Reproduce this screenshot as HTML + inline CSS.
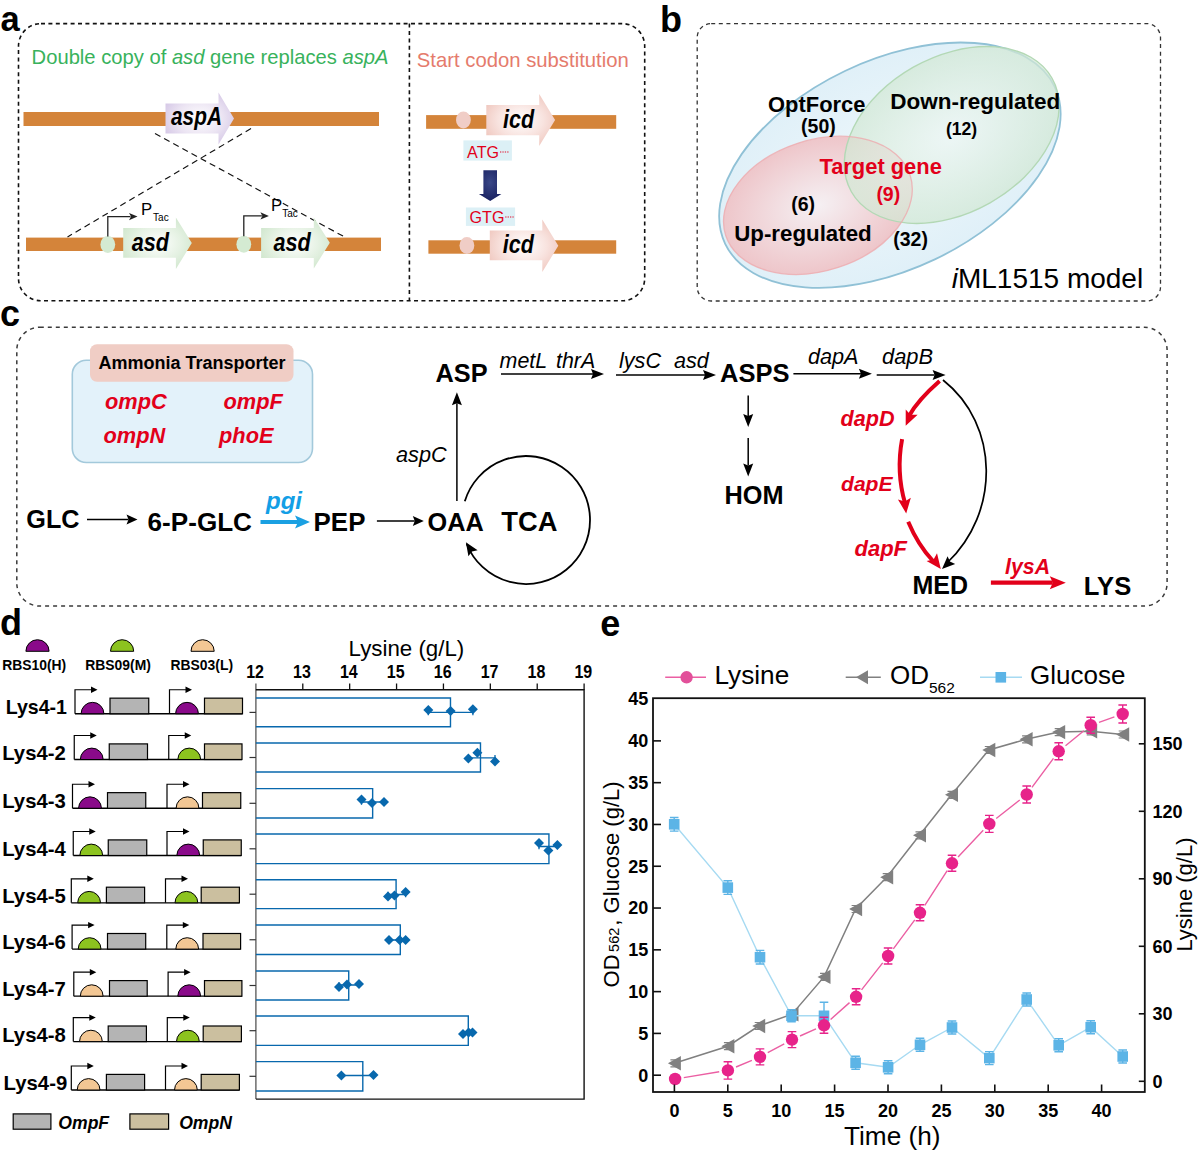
<!DOCTYPE html>
<html><head><meta charset="utf-8"><style>
html,body{margin:0;padding:0;background:#fff;}
svg{display:block;font-family:"Liberation Sans",sans-serif;}
</style></head><body>
<svg width="1200" height="1154" viewBox="0 0 1200 1154">
<rect width="1200" height="1154" fill="#fff"/>
<defs>
<radialGradient id="gPurple" cx="50%" cy="50%" r="60%"><stop offset="0" stop-color="#ffffff"/><stop offset="0.55" stop-color="#ece5f3"/><stop offset="1" stop-color="#d3c5e5"/></radialGradient>
<radialGradient id="gGreen" cx="50%" cy="50%" r="60%"><stop offset="0" stop-color="#ffffff"/><stop offset="0.55" stop-color="#e6f2e4"/><stop offset="1" stop-color="#cfe6cc"/></radialGradient>
<radialGradient id="gPink" cx="50%" cy="50%" r="60%"><stop offset="0" stop-color="#ffffff"/><stop offset="0.55" stop-color="#f8e3df"/><stop offset="1" stop-color="#efc6bd"/></radialGradient>
<radialGradient id="gNavy" cx="50%" cy="40%" r="60%"><stop offset="0" stop-color="#3a4888"/><stop offset="1" stop-color="#1a2262"/></radialGradient>
<radialGradient id="vBlue" cx="50%" cy="50%" r="50%"><stop offset="0" stop-color="#eef7fb"/><stop offset="1" stop-color="#e0f0f8"/></radialGradient>
<radialGradient id="vGreen" cx="50%" cy="50%" r="50%"><stop offset="0" stop-color="#eef7f4"/><stop offset="1" stop-color="#d2e8d4"/></radialGradient>
<radialGradient id="vRed" cx="50%" cy="50%" r="50%"><stop offset="0" stop-color="#f5f0f3"/><stop offset="1" stop-color="#eec6ca"/></radialGradient>
</defs>
<text x="0.5" y="31" font-size="34.5" font-weight="bold" fill="#000">a</text>
<text x="660" y="32" font-size="36" font-weight="bold" fill="#000">b</text>
<text x="0" y="325.5" font-size="36" font-weight="bold" fill="#000">c</text>
<text x="0" y="635.4" font-size="36" font-weight="bold" fill="#000">d</text>
<text x="600.2" y="635.6" font-size="36" font-weight="bold" fill="#000">e</text>
<rect x="18.5" y="23.6" width="626.2" height="277.2" rx="22.5" fill="none" stroke="#111" stroke-width="1.6" stroke-dasharray="4 3.4"/>
<line x1="409.4" y1="23.6" x2="409.4" y2="300.3" stroke="#111" stroke-width="1.6" stroke-dasharray="4 3.4"/>
<text x="31.6" y="63.7" font-size="20.2" fill="#38b25c">Double copy of <tspan font-style="italic">asd</tspan> gene replaces <tspan font-style="italic">aspA</tspan></text>
<rect x="23.5" y="112" width="355.5" height="14" fill="#d4843a"/>
<rect x="26" y="237.6" width="355" height="13.4" fill="#d4843a"/>
<line x1="155" y1="133.5" x2="346.5" y2="238" stroke="#111" stroke-width="1.15" stroke-dasharray="6.2 4.2"/>
<line x1="251" y1="128.5" x2="67.5" y2="237" stroke="#111" stroke-width="1.15" stroke-dasharray="6.2 4.2"/>
<polygon points="165.5,103.5 218.5,103.5 218.5,92.5 234,118.5 218.5,144.5 218.5,133.5 165.5,133.5" fill="url(#gPurple)"/>
<text x="171" y="125" font-size="25.5" font-weight="bold" font-style="italic" textLength="51" lengthAdjust="spacingAndGlyphs">aspA</text>
<ellipse cx="107.8" cy="244.5" rx="7.4" ry="8.5" fill="#d4ead2"/>
<polygon points="123.2,227.9 175.9,227.9 175.9,217.4 191.8,243.1 175.9,269.1 175.9,257.7 123.2,257.7" fill="url(#gGreen)"/>
<text x="131.8" y="250.7" font-size="25" font-weight="bold" font-style="italic" textLength="37.3" lengthAdjust="spacingAndGlyphs">asd</text>
<path d="M107.8,236.5 V216.6 H130.5" fill="none" stroke="#222" stroke-width="1.3"/>
<polygon points="129.0,213.0 137.5,216.6 129.0,220.2 131.0,216.6" fill="#222"/>
<text x="141" y="214.7" font-size="16.8" fill="#000">P</text>
<text x="153.1" y="221.3" font-size="10" fill="#000">Tac</text>
<ellipse cx="243.8" cy="244.3" rx="7.4" ry="8.5" fill="#d4ead2"/>
<polygon points="261.1,228 313.8,228 313.8,217.6 329.8,242.8 313.8,268.6 313.8,258 261.1,258" fill="url(#gGreen)"/>
<text x="273.5" y="250.9" font-size="25" font-weight="bold" font-style="italic" textLength="37.3" lengthAdjust="spacingAndGlyphs">asd</text>
<path d="M243.8,236.3 V215.9 H261.9" fill="none" stroke="#222" stroke-width="1.3"/>
<polygon points="260.4,212.3 268.9,215.9 260.4,219.5 262.4,215.9" fill="#222"/>
<text x="271" y="210.5" font-size="16.8" fill="#000">P</text>
<text x="282.3" y="216.9" font-size="10" fill="#000">Tac</text>
<rect x="426.1" y="115.1" width="190.10000000000002" height="13.700000000000017" fill="#d4843a"/>
<ellipse cx="463.4" cy="120" rx="7.4" ry="8.4" fill="#f0cdc6"/>
<polygon points="486.3,105.1 539.2,105.1 539.2,94.1 555.1,120 539.2,145.9 539.2,135.3 486.3,135.3" fill="url(#gPink)"/>
<text x="503" y="128.2" font-size="25.5" font-weight="bold" font-style="italic" textLength="31.1" lengthAdjust="spacingAndGlyphs">icd</text>
<rect x="428.4" y="240.3" width="187.80000000000007" height="13.399999999999977" fill="#d4843a"/>
<ellipse cx="466.9" cy="245.5" rx="7.4" ry="8.4" fill="#f0cdc6"/>
<polygon points="489.8,230.4 542.3,230.4 542.3,219.5 558.3,245.8 542.3,272 542.3,260.3 489.8,260.3" fill="url(#gPink)"/>
<text x="502.8" y="252.8" font-size="25.5" font-weight="bold" font-style="italic" textLength="31.1" lengthAdjust="spacingAndGlyphs">icd</text>
<text x="416.8" y="66.6" font-size="20.3" fill="#e57b6c">Start codon substitution</text>
<rect x="463.4" y="140.4" width="48.5" height="20.2" fill="#dcf0f6"/>
<text x="467.1" y="157.9" font-size="16.1" fill="#e2001a">ATG</text>
<line x1="500" y1="152" x2="509.5" y2="152" stroke="#e05a70" stroke-width="1.3" stroke-dasharray="1.3 1.1"/>
<rect x="465.9" y="207.5" width="49.2" height="18.4" fill="#dcf0f6"/>
<text x="469.6" y="223" font-size="16.1" fill="#e2001a">GTG</text>
<line x1="505.2" y1="217" x2="514.5" y2="217" stroke="#e05a70" stroke-width="1.3" stroke-dasharray="1.3 1.1"/>
<polygon points="483.4,170.2 497,170.2 497,194.1 501.4,194.1 490.2,201.1 478.9,194.1 483.4,194.1" fill="url(#gNavy)"/>
<rect x="697.2" y="23.6" width="463.3" height="277.4" rx="14" fill="none" stroke="#333" stroke-width="1.3" stroke-dasharray="4 3.6"/>
<ellipse cx="889.9" cy="165.2" rx="182.5" ry="104.4" transform="rotate(-25.5 889.9 165.2)" fill="url(#vBlue)" stroke="#90c1d6" stroke-width="1.8"/>
<ellipse cx="817.9" cy="205.4" rx="97" ry="65.3" transform="rotate(-18.1 817.9 205.4)" fill="url(#vRed)"/>
<ellipse cx="951.7" cy="135" rx="115.3" ry="77.9" transform="rotate(-29.5 951.7 135)" fill="url(#vGreen)" fill-opacity="0.72" stroke="#b3d8b5" stroke-width="1.4"/>
<ellipse cx="817.9" cy="205.4" rx="97" ry="65.3" transform="rotate(-18.1 817.9 205.4)" fill="none" stroke="#eeaaae" stroke-width="1.3" stroke-opacity="0.8"/>
<text x="768.1" y="112.3" font-size="21.9" font-weight="bold" fill="#000">OptForce</text>
<text x="818.4" y="132.9" font-size="19.5" font-weight="bold" fill="#000" text-anchor="middle">(50)</text>
<text x="890.3" y="108.5" font-size="22.5" font-weight="bold" fill="#000">Down-regulated</text>
<text x="961.6" y="135.1" font-size="17.6" font-weight="bold" fill="#000" text-anchor="middle">(12)</text>
<text x="819.4" y="174.1" font-size="21.9" font-weight="bold" fill="#e2001a">Target gene</text>
<text x="888.3" y="201" font-size="19.5" font-weight="bold" fill="#e2001a" text-anchor="middle">(9)</text>
<text x="803.2" y="211.1" font-size="19.5" font-weight="bold" fill="#000" text-anchor="middle">(6)</text>
<text x="734.2" y="240.6" font-size="22.3" font-weight="bold" fill="#000">Up-regulated</text>
<text x="910.6" y="246.3" font-size="19.5" font-weight="bold" fill="#000" text-anchor="middle">(32)</text>
<text x="951.7" y="287.5" font-size="28"><tspan font-style="italic">i</tspan>ML1515 model</text>
<rect x="16.8" y="327.2" width="1150.3" height="278.9" rx="23" fill="none" stroke="#3a3a3a" stroke-width="1.5" stroke-dasharray="4 4"/>
<rect x="72.3" y="360.3" width="240.2" height="102.2" rx="14" fill="#e3f2fa" stroke="#a3c9db" stroke-width="1.6"/>
<rect x="90" y="344.2" width="203.5" height="37.6" rx="7" fill="#f0cdc5"/>
<text x="98.5" y="368.8" font-size="18" font-weight="bold" fill="#000">Ammonia Transporter</text>
<text x="105" y="409" font-size="21.8" font-weight="bold" font-style="italic" fill="#e2001a">ompC</text>
<text x="223.5" y="409" font-size="21.8" font-weight="bold" font-style="italic" fill="#e2001a">ompF</text>
<text x="103.5" y="442.5" font-size="21.8" font-weight="bold" font-style="italic" fill="#e2001a">ompN</text>
<text x="219" y="442.5" font-size="21.8" font-weight="bold" font-style="italic" fill="#e2001a">phoE</text>
<text x="26.3" y="527.8" font-size="25.2" font-weight="bold" fill="#000">GLC</text>
<line x1="87" y1="519.5" x2="128.50" y2="519.50" stroke="#000" stroke-width="1.5"/><polygon points="137.5,519.5 126.50,524.50 128.50,519.50 126.50,514.50" fill="#000"/>
<text x="147.6" y="530.5" font-size="26.1" font-weight="bold" fill="#000">6-P-GLC</text>
<line x1="260.5" y1="522" x2="298.00" y2="522.00" stroke="#1aa0e2" stroke-width="4"/><polygon points="310,522 295.00,528.50 298.00,522.00 295.00,515.50" fill="#1aa0e2"/>
<text x="266" y="509.2" font-size="24" font-weight="bold" font-style="italic" fill="#139fe6">pgi</text>
<text x="313.6" y="530.5" font-size="25.9" font-weight="bold" fill="#000">PEP</text>
<line x1="376.9" y1="520.9" x2="414.80" y2="520.90" stroke="#000" stroke-width="1.5"/><polygon points="423.8,520.9 412.80,525.90 414.80,520.90 412.80,515.90" fill="#000"/>
<text x="427.6" y="531.1" font-size="25.3" font-weight="bold" fill="#000">OAA</text>
<text x="501.3" y="531.1" font-size="27.3" font-weight="bold" fill="#000">TCA</text>
<line x1="456.9" y1="501.1" x2="456.90" y2="403.30" stroke="#000" stroke-width="1.5"/><polygon points="456.9,392.3 461.90,405.30 456.90,403.30 451.90,405.30" fill="#000"/>
<text x="396" y="461.7" font-size="21.7" font-style="italic" fill="#000">aspC</text>
<path d="M464.80,501.29 A64,64 0 1 1 466.66,543.97" fill="none" stroke="#000" stroke-width="1.8"/>
<polygon points="465.9,542.3 477.62,550.16 471.93,551.50 468.42,556.19" fill="#000"/>
<text x="435.5" y="382.4" font-size="25.3" font-weight="bold" fill="#000">ASP</text>
<text x="499.6" y="367.6" font-size="21.4" font-style="italic" fill="#000">metL</text>
<text x="556" y="367.6" font-size="21.4" font-style="italic" fill="#000">thrA</text>
<line x1="501" y1="374" x2="593.00" y2="374.00" stroke="#000" stroke-width="1.5"/><polygon points="604,374 591.00,379.00 593.00,374.00 591.00,369.00" fill="#000"/>
<text x="619" y="367.6" font-size="21.6" font-style="italic" fill="#000">lysC</text>
<text x="674" y="367.6" font-size="21.6" font-style="italic" fill="#000">asd</text>
<line x1="616" y1="375" x2="705.00" y2="375.00" stroke="#000" stroke-width="1.5"/><polygon points="716,375 703.00,380.00 705.00,375.00 703.00,370.00" fill="#000"/>
<text x="720.1" y="382.3" font-size="25.5" font-weight="bold" fill="#000">ASPS</text>
<line x1="793.4" y1="373.8" x2="860.90" y2="373.80" stroke="#000" stroke-width="1.5"/><polygon points="871.9,373.8 858.90,378.80 860.90,373.80 858.90,368.80" fill="#000"/>
<text x="807.9" y="364.2" font-size="21.7" font-style="italic" fill="#000">dapA</text>
<line x1="876.7" y1="375" x2="934.60" y2="375.00" stroke="#000" stroke-width="1.5"/><polygon points="945.6,375 932.60,380.00 934.60,375.00 932.60,370.00" fill="#000"/>
<text x="882" y="364.2" font-size="21.9" font-style="italic" fill="#000">dapB</text>
<line x1="748.2" y1="395.6" x2="748.20" y2="416.00" stroke="#000" stroke-width="1.5"/><polygon points="748.2,427 743.20,414.00 748.20,416.00 753.20,414.00" fill="#000"/>
<line x1="748.2" y1="437.9" x2="748.20" y2="465.50" stroke="#000" stroke-width="1.5"/><polygon points="748.2,476.5 743.20,463.50 748.20,465.50 753.20,463.50" fill="#000"/>
<text x="724.6" y="503.8" font-size="25.3" font-weight="bold" fill="#000">HOM</text>
<path d="M943,380 C1000,425 1000,513 947,563" fill="none" stroke="#000" stroke-width="1.7"/>
<polygon points="942,569.1 947.58,556.13 949.94,561.49 955.19,564.08" fill="#000"/>
<path d="M939.6,381.1 Q918,400 909,416" fill="none" stroke="#e2001a" stroke-width="4"/>
<polygon points="905.7,425.8 905.72,409.45 910.48,414.80 917.64,414.64" fill="#e2001a"/>
<path d="M902.1,439.1 Q896,472 905,503" fill="none" stroke="#e2001a" stroke-width="4"/>
<polygon points="906.2,513.5 897.94,499.39 904.76,501.59 910.85,497.83" fill="#e2001a"/>
<path d="M908.2,521.7 Q918,545 933,561" fill="none" stroke="#e2001a" stroke-width="4"/>
<polygon points="940.8,569.1 926.60,561.00 933.60,559.50 937.00,553.20" fill="#e2001a"/>
<text x="840.5" y="425.8" font-size="21.6" font-weight="bold" font-style="italic" fill="#e2001a">dapD</text>
<text x="841" y="491" font-size="21.1" font-weight="bold" font-style="italic" fill="#e2001a">dapE</text>
<text x="854.5" y="555.8" font-size="22" font-weight="bold" font-style="italic" fill="#e2001a">dapF</text>
<text x="912.5" y="593.7" font-size="25" font-weight="bold" fill="#000">MED</text>
<line x1="990.9" y1="582.7" x2="1052.80" y2="582.70" stroke="#e2001a" stroke-width="4.3"/><polygon points="1065.8,582.7 1049.80,589.20 1052.80,582.70 1049.80,576.20" fill="#e2001a"/>
<text x="1005.1" y="574" font-size="21.3" font-weight="bold" font-style="italic" fill="#e2001a">lysA</text>
<text x="1083.8" y="594.8" font-size="25.6" font-weight="bold" fill="#000">LYS</text>
<path d="M25.90,651.3 A11.6,11.6 0 0 1 49.10,651.3 Z" fill="#8a0a8a" stroke="#000" stroke-width="1"/>
<text x="34.2" y="669.7" font-size="13.9" font-weight="bold" fill="#000" text-anchor="middle">RBS10(H)</text>
<path d="M110.50,651.3 A11.6,11.6 0 0 1 133.70,651.3 Z" fill="#8cc31f" stroke="#000" stroke-width="1"/>
<text x="118.1" y="669.7" font-size="13.9" font-weight="bold" fill="#000" text-anchor="middle">RBS09(M)</text>
<path d="M191.00,651.3 A11.6,11.6 0 0 1 214.20,651.3 Z" fill="#f3c794" stroke="#000" stroke-width="1"/>
<text x="201.8" y="669.7" font-size="13.9" font-weight="bold" fill="#000" text-anchor="middle">RBS03(L)</text>
<text x="5.7" y="713.75" font-size="21" font-weight="bold" textLength="61.3" lengthAdjust="spacingAndGlyphs">Lys4-1</text>
<line x1="75" y1="713.75" x2="242.5" y2="713.75" stroke="#000" stroke-width="1.3"/>
<path d="M75,713.75 V689.75 H92" fill="none" stroke="#000" stroke-width="1.2"/>
<polygon points="97.5,689.75 91,686.55 91,692.95" fill="#000"/>
<path d="M169.5,713.75 V689.75 H186.5" fill="none" stroke="#000" stroke-width="1.2"/>
<polygon points="192.0,689.75 185.5,686.55 185.5,692.95" fill="#000"/>
<path d="M81.10,713.75 A11.4,11.4 0 0 1 103.90,713.75 Z" fill="#8a0a8a" stroke="#000" stroke-width="1"/>
<path d="M175.60,713.75 A11.4,11.4 0 0 1 198.40,713.75 Z" fill="#8a0a8a" stroke="#000" stroke-width="1"/>
<rect x="110" y="698.15" width="38.75" height="15.6" fill="#b4b4b4" stroke="#000" stroke-width="1.2"/>
<rect x="204.5" y="698.15" width="38.0" height="15.6" fill="#cbbf9f" stroke="#000" stroke-width="1.2"/>
<text x="2.2" y="759.5" font-size="21" font-weight="bold" textLength="63.6" lengthAdjust="spacingAndGlyphs">Lys4-2</text>
<line x1="74.25" y1="759.5" x2="242" y2="759.5" stroke="#000" stroke-width="1.3"/>
<path d="M74.25,759.5 V735.5 H91.25" fill="none" stroke="#000" stroke-width="1.2"/>
<polygon points="96.75,735.5 90.25,732.3 90.25,738.7" fill="#000"/>
<path d="M168.75,759.5 V735.5 H185.75" fill="none" stroke="#000" stroke-width="1.2"/>
<polygon points="191.25,735.5 184.75,732.3 184.75,738.7" fill="#000"/>
<path d="M80.35,759.5 A11.4,11.4 0 0 1 103.15,759.5 Z" fill="#8a0a8a" stroke="#000" stroke-width="1"/>
<path d="M177.85,759.5 A11.4,11.4 0 0 1 200.65,759.5 Z" fill="#8cc31f" stroke="#000" stroke-width="1"/>
<rect x="109.25" y="743.9" width="38.25" height="15.6" fill="#b4b4b4" stroke="#000" stroke-width="1.2"/>
<rect x="204.5" y="743.9" width="37.5" height="15.6" fill="#cbbf9f" stroke="#000" stroke-width="1.2"/>
<text x="2.2" y="808.25" font-size="21" font-weight="bold" textLength="63.6" lengthAdjust="spacingAndGlyphs">Lys4-3</text>
<line x1="72.5" y1="808.25" x2="240.75" y2="808.25" stroke="#000" stroke-width="1.3"/>
<path d="M72.5,808.25 V784.25 H89.5" fill="none" stroke="#000" stroke-width="1.2"/>
<polygon points="95.0,784.25 88.5,781.05 88.5,787.45" fill="#000"/>
<path d="M167,808.25 V784.25 H184" fill="none" stroke="#000" stroke-width="1.2"/>
<polygon points="189.5,784.25 183,781.05 183,787.45" fill="#000"/>
<path d="M78.60,808.25 A11.4,11.4 0 0 1 101.40,808.25 Z" fill="#8a0a8a" stroke="#000" stroke-width="1"/>
<path d="M176.10,808.25 A11.4,11.4 0 0 1 198.90,808.25 Z" fill="#f3c794" stroke="#000" stroke-width="1"/>
<rect x="107.5" y="792.65" width="38.25" height="15.6" fill="#b4b4b4" stroke="#000" stroke-width="1.2"/>
<rect x="202.5" y="792.65" width="38.25" height="15.6" fill="#cbbf9f" stroke="#000" stroke-width="1.2"/>
<text x="2.2" y="855.5" font-size="21" font-weight="bold" textLength="63.6" lengthAdjust="spacingAndGlyphs">Lys4-4</text>
<line x1="73.25" y1="855.5" x2="241.25" y2="855.5" stroke="#000" stroke-width="1.3"/>
<path d="M73.25,855.5 V831.5 H90.25" fill="none" stroke="#000" stroke-width="1.2"/>
<polygon points="95.75,831.5 89.25,828.3 89.25,834.7" fill="#000"/>
<path d="M167,855.5 V831.5 H184" fill="none" stroke="#000" stroke-width="1.2"/>
<polygon points="189.5,831.5 183,828.3 183,834.7" fill="#000"/>
<path d="M79.85,855.5 A11.4,11.4 0 0 1 102.65,855.5 Z" fill="#8cc31f" stroke="#000" stroke-width="1"/>
<path d="M176.85,855.5 A11.4,11.4 0 0 1 199.65,855.5 Z" fill="#8a0a8a" stroke="#000" stroke-width="1"/>
<rect x="108.25" y="839.9" width="38.5" height="15.6" fill="#b4b4b4" stroke="#000" stroke-width="1.2"/>
<rect x="203.25" y="839.9" width="38.0" height="15.6" fill="#cbbf9f" stroke="#000" stroke-width="1.2"/>
<text x="2.2" y="902.8" font-size="21" font-weight="bold" textLength="63.6" lengthAdjust="spacingAndGlyphs">Lys4-5</text>
<line x1="71.3" y1="902.8" x2="239.4" y2="902.8" stroke="#000" stroke-width="1.3"/>
<path d="M71.3,902.8 V878.8 H88.3" fill="none" stroke="#000" stroke-width="1.2"/>
<polygon points="93.8,878.8 87.3,875.5999999999999 87.3,882.0" fill="#000"/>
<path d="M165.5,902.8 V878.8 H182.5" fill="none" stroke="#000" stroke-width="1.2"/>
<polygon points="188.0,878.8 181.5,875.5999999999999 181.5,882.0" fill="#000"/>
<path d="M77.70,902.8 A11.4,11.4 0 0 1 100.50,902.8 Z" fill="#8cc31f" stroke="#000" stroke-width="1"/>
<path d="M175.00,902.8 A11.4,11.4 0 0 1 197.80,902.8 Z" fill="#8cc31f" stroke="#000" stroke-width="1"/>
<rect x="106.4" y="887.1999999999999" width="38.19999999999999" height="15.6" fill="#b4b4b4" stroke="#000" stroke-width="1.2"/>
<rect x="201.2" y="887.1999999999999" width="38.20000000000002" height="15.6" fill="#cbbf9f" stroke="#000" stroke-width="1.2"/>
<text x="2.2" y="949.1" font-size="21" font-weight="bold" textLength="63.6" lengthAdjust="spacingAndGlyphs">Lys4-6</text>
<line x1="72.1" y1="949.1" x2="240.6" y2="949.1" stroke="#000" stroke-width="1.3"/>
<path d="M72.1,949.1 V925.1 H89.1" fill="none" stroke="#000" stroke-width="1.2"/>
<polygon points="94.6,925.1 88.1,921.9 88.1,928.3000000000001" fill="#000"/>
<path d="M166.8,949.1 V925.1 H183.8" fill="none" stroke="#000" stroke-width="1.2"/>
<polygon points="189.3,925.1 182.8,921.9 182.8,928.3000000000001" fill="#000"/>
<path d="M78.20,949.1 A11.4,11.4 0 0 1 101.00,949.1 Z" fill="#8cc31f" stroke="#000" stroke-width="1"/>
<path d="M175.80,949.1 A11.4,11.4 0 0 1 198.60,949.1 Z" fill="#f3c794" stroke="#000" stroke-width="1"/>
<rect x="107.5" y="933.5" width="38.19999999999999" height="15.6" fill="#b4b4b4" stroke="#000" stroke-width="1.2"/>
<rect x="203" y="933.5" width="37.599999999999994" height="15.6" fill="#cbbf9f" stroke="#000" stroke-width="1.2"/>
<text x="2.2" y="996.2" font-size="21" font-weight="bold" textLength="63.6" lengthAdjust="spacingAndGlyphs">Lys4-7</text>
<line x1="73.8" y1="996.2" x2="241.9" y2="996.2" stroke="#000" stroke-width="1.3"/>
<path d="M73.8,996.2 V972.2 H90.8" fill="none" stroke="#000" stroke-width="1.2"/>
<polygon points="96.3,972.2 89.8,969.0 89.8,975.4000000000001" fill="#000"/>
<path d="M168.1,996.2 V972.2 H185.1" fill="none" stroke="#000" stroke-width="1.2"/>
<polygon points="190.6,972.2 184.1,969.0 184.1,975.4000000000001" fill="#000"/>
<path d="M80.30,996.2 A11.4,11.4 0 0 1 103.10,996.2 Z" fill="#f3c794" stroke="#000" stroke-width="1"/>
<path d="M177.80,996.2 A11.4,11.4 0 0 1 200.60,996.2 Z" fill="#8a0a8a" stroke="#000" stroke-width="1"/>
<rect x="109.5" y="980.6" width="37.69999999999999" height="15.6" fill="#b4b4b4" stroke="#000" stroke-width="1.2"/>
<rect x="204.5" y="980.6" width="37.400000000000006" height="15.6" fill="#cbbf9f" stroke="#000" stroke-width="1.2"/>
<text x="2.2" y="1041.6" font-size="21" font-weight="bold" textLength="63.6" lengthAdjust="spacingAndGlyphs">Lys4-8</text>
<line x1="73.3" y1="1041.6" x2="241.4" y2="1041.6" stroke="#000" stroke-width="1.3"/>
<path d="M73.3,1041.6 V1017.5999999999999 H90.3" fill="none" stroke="#000" stroke-width="1.2"/>
<polygon points="95.8,1017.5999999999999 89.3,1014.3999999999999 89.3,1020.8" fill="#000"/>
<path d="M167.3,1041.6 V1017.5999999999999 H184.3" fill="none" stroke="#000" stroke-width="1.2"/>
<polygon points="189.8,1017.5999999999999 183.3,1014.3999999999999 183.3,1020.8" fill="#000"/>
<path d="M79.50,1041.6 A11.4,11.4 0 0 1 102.30,1041.6 Z" fill="#f3c794" stroke="#000" stroke-width="1"/>
<path d="M176.50,1041.6 A11.4,11.4 0 0 1 199.30,1041.6 Z" fill="#8cc31f" stroke="#000" stroke-width="1"/>
<rect x="108.2" y="1026.0" width="38.2" height="15.6" fill="#b4b4b4" stroke="#000" stroke-width="1.2"/>
<rect x="203.2" y="1026.0" width="38.20000000000002" height="15.6" fill="#cbbf9f" stroke="#000" stroke-width="1.2"/>
<text x="3.6" y="1090" font-size="21" font-weight="bold" textLength="63.6" lengthAdjust="spacingAndGlyphs">Lys4-9</text>
<line x1="71.3" y1="1090" x2="239.4" y2="1090" stroke="#000" stroke-width="1.3"/>
<path d="M71.3,1090 V1066 H88.3" fill="none" stroke="#000" stroke-width="1.2"/>
<polygon points="93.8,1066 87.3,1062.8 87.3,1069.2" fill="#000"/>
<path d="M165.5,1090 V1066 H182.5" fill="none" stroke="#000" stroke-width="1.2"/>
<polygon points="188.0,1066 181.5,1062.8 181.5,1069.2" fill="#000"/>
<path d="M77.20,1090 A11.4,11.4 0 0 1 100.00,1090 Z" fill="#f3c794" stroke="#000" stroke-width="1"/>
<path d="M174.50,1090 A11.4,11.4 0 0 1 197.30,1090 Z" fill="#f3c794" stroke="#000" stroke-width="1"/>
<rect x="106.4" y="1074.4" width="38.19999999999999" height="15.6" fill="#b4b4b4" stroke="#000" stroke-width="1.2"/>
<rect x="201.2" y="1074.4" width="38.20000000000002" height="15.6" fill="#cbbf9f" stroke="#000" stroke-width="1.2"/>
<rect x="13.2" y="1113.9" width="37.7" height="15.3" fill="#b4b4b4" stroke="#000" stroke-width="1.2"/>
<text x="58.3" y="1128.9" font-size="17.6" font-weight="bold" font-style="italic" fill="#000">OmpF</text>
<rect x="129.9" y="1113.9" width="38.7" height="15.3" fill="#cbbf9f" stroke="#000" stroke-width="1.2"/>
<text x="179.2" y="1128.9" font-size="17.6" font-weight="bold" font-style="italic" fill="#000">OmpN</text>
<line x1="255.9" y1="683.5" x2="255.9" y2="1099.1" stroke="#555" stroke-width="1.3"/>
<polyline points="255.9,689.7 584.1,689.7 584.1,1099.1 255.9,1099.1" fill="none" stroke="#111" stroke-width="1.4"/>
<text x="255.10" y="677.5" font-size="17.8" font-weight="bold" text-anchor="middle" textLength="17.8" lengthAdjust="spacingAndGlyphs">12</text>
<line x1="302.79" y1="683.5" x2="302.79" y2="689.7" stroke="#111" stroke-width="1.3"/>
<text x="301.99" y="677.5" font-size="17.8" font-weight="bold" text-anchor="middle" textLength="17.8" lengthAdjust="spacingAndGlyphs">13</text>
<line x1="349.67" y1="683.5" x2="349.67" y2="689.7" stroke="#111" stroke-width="1.3"/>
<text x="348.87" y="677.5" font-size="17.8" font-weight="bold" text-anchor="middle" textLength="17.8" lengthAdjust="spacingAndGlyphs">14</text>
<line x1="396.56" y1="683.5" x2="396.56" y2="689.7" stroke="#111" stroke-width="1.3"/>
<text x="395.76" y="677.5" font-size="17.8" font-weight="bold" text-anchor="middle" textLength="17.8" lengthAdjust="spacingAndGlyphs">15</text>
<line x1="443.44" y1="683.5" x2="443.44" y2="689.7" stroke="#111" stroke-width="1.3"/>
<text x="442.64" y="677.5" font-size="17.8" font-weight="bold" text-anchor="middle" textLength="17.8" lengthAdjust="spacingAndGlyphs">16</text>
<line x1="490.33" y1="683.5" x2="490.33" y2="689.7" stroke="#111" stroke-width="1.3"/>
<text x="489.53" y="677.5" font-size="17.8" font-weight="bold" text-anchor="middle" textLength="17.8" lengthAdjust="spacingAndGlyphs">17</text>
<line x1="537.22" y1="683.5" x2="537.22" y2="689.7" stroke="#111" stroke-width="1.3"/>
<text x="536.42" y="677.5" font-size="17.8" font-weight="bold" text-anchor="middle" textLength="17.8" lengthAdjust="spacingAndGlyphs">18</text>
<line x1="584.10" y1="683.5" x2="584.10" y2="689.7" stroke="#111" stroke-width="1.3"/>
<text x="583.30" y="677.5" font-size="17.8" font-weight="bold" text-anchor="middle" textLength="17.8" lengthAdjust="spacingAndGlyphs">19</text>
<text x="348.6" y="656" font-size="22.3" fill="#000">Lysine (g/L)</text>
<line x1="249.5" y1="712.40" x2="255.9" y2="712.40" stroke="#333" stroke-width="1.2"/>
<polyline points="255.9,698 450.48,698 450.48,726.8 255.9,726.8" fill="none" stroke="#0868ad" stroke-width="1.4"/>
<path d="M428.3,712.4 H472.9 M428.3,709.6 v5.6 M472.9,709.6 v5.6" stroke="#0868ad" stroke-width="1.3" fill="none"/>
<polygon points="428.3,704.9 433.3,709.9 428.3,714.9 423.3,709.9" fill="#0868ad"/>
<polygon points="450.6,706 455.6,711 450.6,716 445.6,711" fill="#0868ad"/>
<polygon points="472.9,704.3 477.9,709.3 472.9,714.3 467.9,709.3" fill="#0868ad"/>
<line x1="249.5" y1="757.50" x2="255.9" y2="757.50" stroke="#333" stroke-width="1.2"/>
<polyline points="255.9,743 480.48,743 480.48,772 255.9,772" fill="none" stroke="#0868ad" stroke-width="1.4"/>
<path d="M468.4,757.9 H495 M468.4,755.1 v5.6 M495,755.1 v5.6" stroke="#0868ad" stroke-width="1.3" fill="none"/>
<polygon points="477.4,747.8 482.4,752.8 477.4,757.8 472.4,752.8" fill="#0868ad"/>
<polygon points="468.4,753.4 473.4,758.4 468.4,763.4 463.4,758.4" fill="#0868ad"/>
<polygon points="495,756.4 500,761.4 495,766.4 490,761.4" fill="#0868ad"/>
<line x1="249.5" y1="803.30" x2="255.9" y2="803.30" stroke="#333" stroke-width="1.2"/>
<polyline points="255.9,788.6 372.65,788.6 372.65,818 255.9,818" fill="none" stroke="#0868ad" stroke-width="1.4"/>
<path d="M361.5,802 H384 M361.5,799.2 v5.6 M384,799.2 v5.6" stroke="#0868ad" stroke-width="1.3" fill="none"/>
<polygon points="361.5,794.4 366.5,799.4 361.5,804.4 356.5,799.4" fill="#0868ad"/>
<polygon points="372,798 377,803 372,808 367,803" fill="#0868ad"/>
<polygon points="384,797 389,802 384,807 379,802" fill="#0868ad"/>
<line x1="249.5" y1="848.80" x2="255.9" y2="848.80" stroke="#333" stroke-width="1.2"/>
<polyline points="255.9,834 548.94,834 548.94,863.6 255.9,863.6" fill="none" stroke="#0868ad" stroke-width="1.4"/>
<path d="M539,846.5 H557.4 M539,843.7 v5.6 M557.4,843.7 v5.6" stroke="#0868ad" stroke-width="1.3" fill="none"/>
<polygon points="539,838 544,843 539,848 534,843" fill="#0868ad"/>
<polygon points="548.4,845.4 553.4,850.4 548.4,855.4 543.4,850.4" fill="#0868ad"/>
<polygon points="557.4,840 562.4,845 557.4,850 552.4,845" fill="#0868ad"/>
<line x1="249.5" y1="894.20" x2="255.9" y2="894.20" stroke="#333" stroke-width="1.2"/>
<polyline points="255.9,879.8 396.09,879.8 396.09,908.6 255.9,908.6" fill="none" stroke="#0868ad" stroke-width="1.4"/>
<path d="M388,894.5 H405.6 M388,891.7 v5.6 M405.6,891.7 v5.6" stroke="#0868ad" stroke-width="1.3" fill="none"/>
<polygon points="388,891.6 393,896.6 388,901.6 383,896.6" fill="#0868ad"/>
<polygon points="394.5,890.4 399.5,895.4 394.5,900.4 389.5,895.4" fill="#0868ad"/>
<polygon points="405.6,887 410.6,892 405.6,897 400.6,892" fill="#0868ad"/>
<line x1="249.5" y1="939.75" x2="255.9" y2="939.75" stroke="#333" stroke-width="1.2"/>
<polyline points="255.9,925 400.31,925 400.31,954.5 255.9,954.5" fill="none" stroke="#0868ad" stroke-width="1.4"/>
<path d="M389,940 H405.6 M389,937.2 v5.6 M405.6,937.2 v5.6" stroke="#0868ad" stroke-width="1.3" fill="none"/>
<polygon points="389,935 394,940 389,945 384,940" fill="#0868ad"/>
<polygon points="399.6,935 404.6,940 399.6,945 394.6,940" fill="#0868ad"/>
<polygon points="405.6,935 410.6,940 405.6,945 400.6,940" fill="#0868ad"/>
<line x1="249.5" y1="985.50" x2="255.9" y2="985.50" stroke="#333" stroke-width="1.2"/>
<polyline points="255.9,971 348.73,971 348.73,1000 255.9,1000" fill="none" stroke="#0868ad" stroke-width="1.4"/>
<path d="M339,985 H359 M339,982.2 v5.6 M359,982.2 v5.6" stroke="#0868ad" stroke-width="1.3" fill="none"/>
<polygon points="339,982 344,987 339,992 334,987" fill="#0868ad"/>
<polygon points="347,979.5 352,984.5 347,989.5 342,984.5" fill="#0868ad"/>
<polygon points="359,979 364,984 359,989 354,984" fill="#0868ad"/>
<line x1="249.5" y1="1030.70" x2="255.9" y2="1030.70" stroke="#333" stroke-width="1.2"/>
<polyline points="255.9,1016 468.29,1016 468.29,1045.4 255.9,1045.4" fill="none" stroke="#0868ad" stroke-width="1.4"/>
<path d="M463,1033 H472.5 M463,1030.2 v5.6 M472.5,1030.2 v5.6" stroke="#0868ad" stroke-width="1.3" fill="none"/>
<polygon points="463,1029 468,1034 463,1039 458,1034" fill="#0868ad"/>
<polygon points="468.6,1027.5 473.6,1032.5 468.6,1037.5 463.6,1032.5" fill="#0868ad"/>
<polygon points="472.5,1027.5 477.5,1032.5 472.5,1037.5 467.5,1032.5" fill="#0868ad"/>
<line x1="249.5" y1="1076.30" x2="255.9" y2="1076.30" stroke="#333" stroke-width="1.2"/>
<polyline points="255.9,1061.6 362.80,1061.6 362.80,1091 255.9,1091" fill="none" stroke="#0868ad" stroke-width="1.4"/>
<path d="M341.4,1075.5 H373.5 M341.4,1072.7 v5.6 M373.5,1072.7 v5.6" stroke="#0868ad" stroke-width="1.3" fill="none"/>
<polygon points="341.4,1070.4 346.4,1075.4 341.4,1080.4 336.4,1075.4" fill="#0868ad"/>
<polygon points="373.5,1070 378.5,1075 373.5,1080 368.5,1075" fill="#0868ad"/>
<polyline points="674.4,1063.3 727.9,1046.2 758.7,1026 792,1014.2 824,976.9 855.6,909 886.7,877.2 919.5,835.3 951.5,794.8 988.8,750 1026.1,739.3 1058.7,732.1 1090.7,731.3 1122.7,734.5" fill="none" stroke="#808080" stroke-width="1.5"/>
<path d="M674.4,1059.8 V1066.8 M670.4,1059.8 h8 M670.4,1066.8 h8" stroke="#808080" stroke-width="1.2" fill="none"/>
<polygon points="667.9,1063.3 680.9,1056.1 680.9,1070.5" fill="#808080"/>
<path d="M727.9,1042.7 V1049.7 M723.9,1042.7 h8 M723.9,1049.7 h8" stroke="#808080" stroke-width="1.2" fill="none"/>
<polygon points="721.4,1046.2 734.4,1039.0 734.4,1053.4" fill="#808080"/>
<path d="M758.7,1022.5 V1029.5 M754.7,1022.5 h8 M754.7,1029.5 h8" stroke="#808080" stroke-width="1.2" fill="none"/>
<polygon points="752.2,1026 765.2,1018.8 765.2,1033.2" fill="#808080"/>
<path d="M792,1010.7 V1017.7 M788,1010.7 h8 M788,1017.7 h8" stroke="#808080" stroke-width="1.2" fill="none"/>
<polygon points="785.5,1014.2 798.5,1007.0 798.5,1021.4000000000001" fill="#808080"/>
<path d="M824,973.4 V980.4 M820,973.4 h8 M820,980.4 h8" stroke="#808080" stroke-width="1.2" fill="none"/>
<polygon points="817.5,976.9 830.5,969.6999999999999 830.5,984.1" fill="#808080"/>
<path d="M855.6,905.5 V912.5 M851.6,905.5 h8 M851.6,912.5 h8" stroke="#808080" stroke-width="1.2" fill="none"/>
<polygon points="849.1,909 862.1,901.8 862.1,916.2" fill="#808080"/>
<path d="M886.7,873.7 V880.7 M882.7,873.7 h8 M882.7,880.7 h8" stroke="#808080" stroke-width="1.2" fill="none"/>
<polygon points="880.2,877.2 893.2,870.0 893.2,884.4000000000001" fill="#808080"/>
<path d="M919.5,831.8 V838.8 M915.5,831.8 h8 M915.5,838.8 h8" stroke="#808080" stroke-width="1.2" fill="none"/>
<polygon points="913.0,835.3 926.0,828.0999999999999 926.0,842.5" fill="#808080"/>
<path d="M951.5,791.3 V798.3 M947.5,791.3 h8 M947.5,798.3 h8" stroke="#808080" stroke-width="1.2" fill="none"/>
<polygon points="945.0,794.8 958.0,787.5999999999999 958.0,802.0" fill="#808080"/>
<path d="M988.8,746.5 V753.5 M984.8,746.5 h8 M984.8,753.5 h8" stroke="#808080" stroke-width="1.2" fill="none"/>
<polygon points="982.3,750 995.3,742.8 995.3,757.2" fill="#808080"/>
<path d="M1026.1,735.8 V742.8 M1022.0999999999999,735.8 h8 M1022.0999999999999,742.8 h8" stroke="#808080" stroke-width="1.2" fill="none"/>
<polygon points="1019.5999999999999,739.3 1032.6,732.0999999999999 1032.6,746.5" fill="#808080"/>
<path d="M1058.7,728.6 V735.6 M1054.7,728.6 h8 M1054.7,735.6 h8" stroke="#808080" stroke-width="1.2" fill="none"/>
<polygon points="1052.2,732.1 1065.2,724.9 1065.2,739.3000000000001" fill="#808080"/>
<path d="M1090.7,727.8 V734.8 M1086.7,727.8 h8 M1086.7,734.8 h8" stroke="#808080" stroke-width="1.2" fill="none"/>
<polygon points="1084.2,731.3 1097.2,724.0999999999999 1097.2,738.5" fill="#808080"/>
<path d="M1122.7,731.0 V738.0 M1118.7,731.0 h8 M1118.7,738.0 h8" stroke="#808080" stroke-width="1.2" fill="none"/>
<polygon points="1116.2,734.5 1129.2,727.3 1129.2,741.7" fill="#808080"/>
<polyline points="674.2,824.3 727.8,887.6 760,957.2 791.5,1015.8 824,1015.8 855.6,1062.8 888.1,1067.3 920,1044.8 952,1027.5 989.3,1058.1 1026.7,999.5 1058.7,1045.3 1090.7,1027.2 1122.7,1056.5" fill="none" stroke="#a6daf2" stroke-width="1.4"/>
<path d="M674.2,817.5 V831.0999999999999 M669.9000000000001,817.5 h8.6 M669.9000000000001,831.0999999999999 h8.6" stroke="#5cb4e6" stroke-width="1.4" fill="none"/>
<rect x="668.9000000000001" y="819.0" width="10.6" height="10.6" fill="#5cb4e6"/>
<path d="M727.8,880.8000000000001 V894.4 M723.5,880.8000000000001 h8.6 M723.5,894.4 h8.6" stroke="#5cb4e6" stroke-width="1.4" fill="none"/>
<rect x="722.5" y="882.3000000000001" width="10.6" height="10.6" fill="#5cb4e6"/>
<path d="M760,950.4000000000001 V964.0 M755.7,950.4000000000001 h8.6 M755.7,964.0 h8.6" stroke="#5cb4e6" stroke-width="1.4" fill="none"/>
<rect x="754.7" y="951.9000000000001" width="10.6" height="10.6" fill="#5cb4e6"/>
<path d="M791.5,1009.8 V1021.8 M787.2,1009.8 h8.6 M787.2,1021.8 h8.6" stroke="#5cb4e6" stroke-width="1.4" fill="none"/>
<rect x="786.2" y="1010.5" width="10.6" height="10.6" fill="#5cb4e6"/>
<path d="M824,1002.3 V1021.8 M819.7,1002.3 h8.6 M819.7,1021.8 h8.6" stroke="#5cb4e6" stroke-width="1.4" fill="none"/>
<rect x="818.7" y="1010.5" width="10.6" height="10.6" fill="#5cb4e6"/>
<path d="M855.6,1056.3 V1069.3 M851.3000000000001,1056.3 h8.6 M851.3000000000001,1069.3 h8.6" stroke="#5cb4e6" stroke-width="1.4" fill="none"/>
<rect x="850.3000000000001" y="1057.5" width="10.6" height="10.6" fill="#5cb4e6"/>
<path d="M888.1,1060.8 V1073.8 M883.8000000000001,1060.8 h8.6 M883.8000000000001,1073.8 h8.6" stroke="#5cb4e6" stroke-width="1.4" fill="none"/>
<rect x="882.8000000000001" y="1062.0" width="10.6" height="10.6" fill="#5cb4e6"/>
<path d="M920,1038.3 V1051.3 M915.7,1038.3 h8.6 M915.7,1051.3 h8.6" stroke="#5cb4e6" stroke-width="1.4" fill="none"/>
<rect x="914.7" y="1039.5" width="10.6" height="10.6" fill="#5cb4e6"/>
<path d="M952,1021.0 V1034.0 M947.7,1021.0 h8.6 M947.7,1034.0 h8.6" stroke="#5cb4e6" stroke-width="1.4" fill="none"/>
<rect x="946.7" y="1022.2" width="10.6" height="10.6" fill="#5cb4e6"/>
<path d="M989.3,1051.6 V1064.6 M985.0,1051.6 h8.6 M985.0,1064.6 h8.6" stroke="#5cb4e6" stroke-width="1.4" fill="none"/>
<rect x="984.0" y="1052.8" width="10.6" height="10.6" fill="#5cb4e6"/>
<path d="M1026.7,993.0 V1006.0 M1022.4000000000001,993.0 h8.6 M1022.4000000000001,1006.0 h8.6" stroke="#5cb4e6" stroke-width="1.4" fill="none"/>
<rect x="1021.4000000000001" y="994.2" width="10.6" height="10.6" fill="#5cb4e6"/>
<path d="M1058.7,1038.8 V1051.8 M1054.4,1038.8 h8.6 M1054.4,1051.8 h8.6" stroke="#5cb4e6" stroke-width="1.4" fill="none"/>
<rect x="1053.4" y="1040.0" width="10.6" height="10.6" fill="#5cb4e6"/>
<path d="M1090.7,1020.7 V1033.7 M1086.4,1020.7 h8.6 M1086.4,1033.7 h8.6" stroke="#5cb4e6" stroke-width="1.4" fill="none"/>
<rect x="1085.4" y="1021.9000000000001" width="10.6" height="10.6" fill="#5cb4e6"/>
<path d="M1122.7,1050.0 V1063.0 M1118.4,1050.0 h8.6 M1118.4,1063.0 h8.6" stroke="#5cb4e6" stroke-width="1.4" fill="none"/>
<rect x="1117.4" y="1051.2" width="10.6" height="10.6" fill="#5cb4e6"/>
<path d="M683.79,1077.59 L719.21,1071.81 M736.01,1066.99 L751.89,1060.31 M767.74,1052.71 L784.26,1043.79 M800.03,1036.01 L815.97,1028.89 M830.58,1019.46 L849.52,1002.64 M861.53,989.88 L882.67,962.92 M893.33,948.92 L914.77,919.88 M924.78,905.41 L947.22,870.69 M958.05,856.91 L983.25,830.29 M996.22,818.46 L1019.78,799.94 M1031.94,787.43 L1053.46,758.37 M1065.52,745.74 L1083.88,730.76 M1099.01,722.29 L1114.39,716.91" fill="none" stroke="#eb5fa3" stroke-width="1.4"/>
<path d="M675.1,1076 V1082 M670.8000000000001,1076 h8.6 M670.8000000000001,1082 h8.6" stroke="#e7238a" stroke-width="1.4" fill="none"/>
<circle cx="675.1" cy="1079" r="6.2" fill="#e7238a"/>
<path d="M727.9,1061.7 V1079.1000000000001 M723.6,1061.7 h8.6 M723.6,1079.1000000000001 h8.6" stroke="#e7238a" stroke-width="1.4" fill="none"/>
<circle cx="727.9" cy="1070.4" r="6.2" fill="#e7238a"/>
<path d="M760,1048.9 V1064.9 M755.7,1048.9 h8.6 M755.7,1064.9 h8.6" stroke="#e7238a" stroke-width="1.4" fill="none"/>
<circle cx="760" cy="1056.9" r="6.2" fill="#e7238a"/>
<path d="M792,1031.6 V1047.6 M787.7,1031.6 h8.6 M787.7,1047.6 h8.6" stroke="#e7238a" stroke-width="1.4" fill="none"/>
<circle cx="792" cy="1039.6" r="6.2" fill="#e7238a"/>
<path d="M824,1017.3 V1033.3 M819.7,1017.3 h8.6 M819.7,1033.3 h8.6" stroke="#e7238a" stroke-width="1.4" fill="none"/>
<circle cx="824" cy="1025.3" r="6.2" fill="#e7238a"/>
<path d="M856.1,988.8 V1004.8 M851.8000000000001,988.8 h8.6 M851.8000000000001,1004.8 h8.6" stroke="#e7238a" stroke-width="1.4" fill="none"/>
<circle cx="856.1" cy="996.8" r="6.2" fill="#e7238a"/>
<path d="M888.1,948 V964 M883.8000000000001,948 h8.6 M883.8000000000001,964 h8.6" stroke="#e7238a" stroke-width="1.4" fill="none"/>
<circle cx="888.1" cy="956" r="6.2" fill="#e7238a"/>
<path d="M920,904.8 V920.8 M915.7,904.8 h8.6 M915.7,920.8 h8.6" stroke="#e7238a" stroke-width="1.4" fill="none"/>
<circle cx="920" cy="912.8" r="6.2" fill="#e7238a"/>
<path d="M952,855.3 V871.3 M947.7,855.3 h8.6 M947.7,871.3 h8.6" stroke="#e7238a" stroke-width="1.4" fill="none"/>
<circle cx="952" cy="863.3" r="6.2" fill="#e7238a"/>
<path d="M989.3,815.4 V832.4 M985.0,815.4 h8.6 M985.0,832.4 h8.6" stroke="#e7238a" stroke-width="1.4" fill="none"/>
<circle cx="989.3" cy="823.9" r="6.2" fill="#e7238a"/>
<path d="M1026.7,786.0 V803.0 M1022.4000000000001,786.0 h8.6 M1022.4000000000001,803.0 h8.6" stroke="#e7238a" stroke-width="1.4" fill="none"/>
<circle cx="1026.7" cy="794.5" r="6.2" fill="#e7238a"/>
<path d="M1058.7,742.8 V759.8 M1054.4,742.8 h8.6 M1054.4,759.8 h8.6" stroke="#e7238a" stroke-width="1.4" fill="none"/>
<circle cx="1058.7" cy="751.3" r="6.2" fill="#e7238a"/>
<path d="M1090.7,717.2 V733.2 M1086.4,717.2 h8.6 M1086.4,733.2 h8.6" stroke="#e7238a" stroke-width="1.4" fill="none"/>
<circle cx="1090.7" cy="725.2" r="6.2" fill="#e7238a"/>
<path d="M1122.7,705 V723 M1118.4,705 h8.6 M1118.4,723 h8.6" stroke="#e7238a" stroke-width="1.4" fill="none"/>
<circle cx="1122.7" cy="714" r="6.2" fill="#e7238a"/>
<rect x="653" y="698.2" width="491.79999999999995" height="393.79999999999995" fill="none" stroke="#111" stroke-width="1.8"/>
<line x1="653" y1="1075.20" x2="661" y2="1075.20" stroke="#111" stroke-width="1.6"/>
<text x="648.2" y="1081.50" font-size="18" font-weight="bold" text-anchor="end">0</text>
<line x1="653" y1="1033.41" x2="661" y2="1033.41" stroke="#111" stroke-width="1.6"/>
<text x="648.2" y="1039.71" font-size="18" font-weight="bold" text-anchor="end">5</text>
<line x1="653" y1="991.62" x2="661" y2="991.62" stroke="#111" stroke-width="1.6"/>
<text x="648.2" y="997.92" font-size="18" font-weight="bold" text-anchor="end">10</text>
<line x1="653" y1="949.83" x2="661" y2="949.83" stroke="#111" stroke-width="1.6"/>
<text x="648.2" y="956.13" font-size="18" font-weight="bold" text-anchor="end">15</text>
<line x1="653" y1="908.04" x2="661" y2="908.04" stroke="#111" stroke-width="1.6"/>
<text x="648.2" y="914.34" font-size="18" font-weight="bold" text-anchor="end">20</text>
<line x1="653" y1="866.25" x2="661" y2="866.25" stroke="#111" stroke-width="1.6"/>
<text x="648.2" y="872.55" font-size="18" font-weight="bold" text-anchor="end">25</text>
<line x1="653" y1="824.46" x2="661" y2="824.46" stroke="#111" stroke-width="1.6"/>
<text x="648.2" y="830.76" font-size="18" font-weight="bold" text-anchor="end">30</text>
<line x1="653" y1="782.67" x2="661" y2="782.67" stroke="#111" stroke-width="1.6"/>
<text x="648.2" y="788.97" font-size="18" font-weight="bold" text-anchor="end">35</text>
<line x1="653" y1="740.88" x2="661" y2="740.88" stroke="#111" stroke-width="1.6"/>
<text x="648.2" y="747.18" font-size="18" font-weight="bold" text-anchor="end">40</text>
<text x="648.2" y="705.39" font-size="18" font-weight="bold" text-anchor="end">45</text>
<line x1="1138.8" y1="1081.30" x2="1144.8" y2="1081.30" stroke="#111" stroke-width="1.6"/>
<text x="1152.5" y="1087.60" font-size="18" font-weight="bold">0</text>
<line x1="1138.8" y1="1013.80" x2="1144.8" y2="1013.80" stroke="#111" stroke-width="1.6"/>
<text x="1152.5" y="1020.10" font-size="18" font-weight="bold">30</text>
<line x1="1138.8" y1="946.30" x2="1144.8" y2="946.30" stroke="#111" stroke-width="1.6"/>
<text x="1152.5" y="952.60" font-size="18" font-weight="bold">60</text>
<line x1="1138.8" y1="878.80" x2="1144.8" y2="878.80" stroke="#111" stroke-width="1.6"/>
<text x="1152.5" y="885.10" font-size="18" font-weight="bold">90</text>
<line x1="1138.8" y1="811.30" x2="1144.8" y2="811.30" stroke="#111" stroke-width="1.6"/>
<text x="1152.5" y="817.60" font-size="18" font-weight="bold">120</text>
<line x1="1138.8" y1="743.80" x2="1144.8" y2="743.80" stroke="#111" stroke-width="1.6"/>
<text x="1152.5" y="750.10" font-size="18" font-weight="bold">150</text>
<line x1="674.40" y1="1084.5" x2="674.40" y2="1092" stroke="#111" stroke-width="1.6"/>
<text x="674.40" y="1116.5" font-size="18" font-weight="bold" text-anchor="middle">0</text>
<line x1="727.80" y1="1084.5" x2="727.80" y2="1092" stroke="#111" stroke-width="1.6"/>
<text x="727.80" y="1116.5" font-size="18" font-weight="bold" text-anchor="middle">5</text>
<line x1="781.20" y1="1084.5" x2="781.20" y2="1092" stroke="#111" stroke-width="1.6"/>
<text x="781.20" y="1116.5" font-size="18" font-weight="bold" text-anchor="middle">10</text>
<line x1="834.60" y1="1084.5" x2="834.60" y2="1092" stroke="#111" stroke-width="1.6"/>
<text x="834.60" y="1116.5" font-size="18" font-weight="bold" text-anchor="middle">15</text>
<line x1="888.00" y1="1084.5" x2="888.00" y2="1092" stroke="#111" stroke-width="1.6"/>
<text x="888.00" y="1116.5" font-size="18" font-weight="bold" text-anchor="middle">20</text>
<line x1="941.40" y1="1084.5" x2="941.40" y2="1092" stroke="#111" stroke-width="1.6"/>
<text x="941.40" y="1116.5" font-size="18" font-weight="bold" text-anchor="middle">25</text>
<line x1="994.80" y1="1084.5" x2="994.80" y2="1092" stroke="#111" stroke-width="1.6"/>
<text x="994.80" y="1116.5" font-size="18" font-weight="bold" text-anchor="middle">30</text>
<line x1="1048.20" y1="1084.5" x2="1048.20" y2="1092" stroke="#111" stroke-width="1.6"/>
<text x="1048.20" y="1116.5" font-size="18" font-weight="bold" text-anchor="middle">35</text>
<line x1="1101.60" y1="1084.5" x2="1101.60" y2="1092" stroke="#111" stroke-width="1.6"/>
<text x="1101.60" y="1116.5" font-size="18" font-weight="bold" text-anchor="middle">40</text>
<text x="844" y="1144.5" font-size="26.2" fill="#000">Time (h)</text>
<text transform="translate(618.5,987.4) rotate(-90)" font-size="22">OD<tspan font-size="14.5" dx="2.5">562</tspan><tspan dx="2">, Glucose (g/L)</tspan></text>
<text transform="translate(1191.7,951.6) rotate(-90)" font-size="22">Lysine (g/L)</text>
<line x1="665.2" y1="677.3" x2="706" y2="677.3" stroke="#eb5fa3" stroke-width="1.6"/><circle cx="686.6" cy="677.3" r="6.2" fill="#e2509a"/>
<text x="714.5" y="683.9" font-size="26.2" fill="#000">Lysine</text>
<line x1="845.7" y1="677.3" x2="880.8" y2="677.3" stroke="#808080" stroke-width="1.6"/><polygon points="856,677.3 868,670.3 868,684.3" fill="#808080"/>
<text x="890" y="683.9" font-size="26">OD<tspan font-size="15.5" dy="8.6">562</tspan></text>
<line x1="980" y1="677.3" x2="1022" y2="677.3" stroke="#a6daf2" stroke-width="1.6"/><rect x="995.5" y="672" width="10.6" height="10.6" fill="#5cb4e6"/>
<text x="1030" y="683.9" font-size="26" fill="#000">Glucose</text>
</svg></body></html>
